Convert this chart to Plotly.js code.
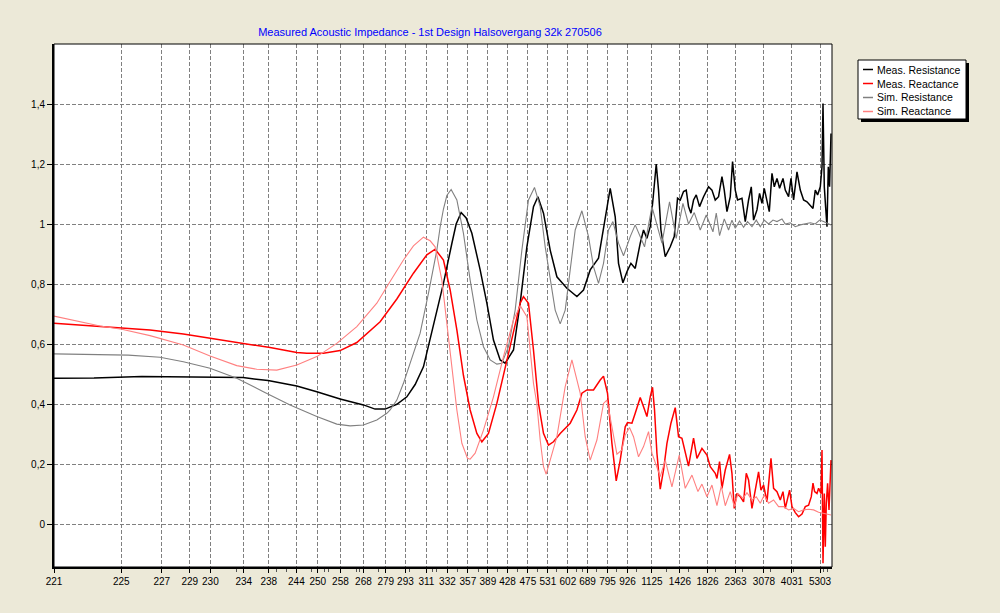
<!DOCTYPE html>
<html>
<head>
<meta charset="utf-8">
<script src="https://cdn.plot.ly/plotly-3.0.1.min.js"></script>
<style>
  body { margin: 0; background: #ECE9D8; }
  #chart { width: 1000px; height: 613px; }
</style>
</head>
<body>
<div id="chart"></div>
<script>
// x is the sweep step along the (non-linear) frequency axis, y is the normalised impedance.
// Tick labels give the frequency (Hz) found at the marked steps.
const tickSteps = [0, 67.3, 107.7, 135.7, 156.3, 189.7, 214.7, 242.3, 263.7, 286.3, 309.3, 331.7, 351.3,
  372.3, 393.3, 413.7, 433.7, 453.3, 473.7, 493.7, 513.7, 533.3, 553.3, 573.3, 597.7, 625.7, 653.3,
  681.3, 709.7, 737.7, 765.7];
const tickFreqs = ['221', '225', '227', '229', '230', '234', '238', '244', '250', '258', '268', '279', '293',
  '311', '332', '357', '389', '428', '475', '531', '602', '689', '795', '926', '1125', '1426', '1826',
  '2363', '3078', '4031', '5303'];
const minorSteps = [182, 222.7, 232, 257.7, 270.3, 274.3, 302.7, 305.3, 324.3, 355.3, 378.7, 382.7, 403.7,
  424.3, 443.3, 463.3, 483.3, 502.7, 522.7, 528.7, 542.7, 562.7, 582.7, 612.7, 634.3, 661, 688.7, 716,
  739.3, 769.3, 773.3];
const yTicks = [0, 0.2, 0.4, 0.6, 0.8, 1, 1.2, 1.4];
const yTickText = ['0', '0,2', '0,4', '0,6', '0,8', '1', '1,2', '1,4'];

const seriesNames = ['Meas. Resistance', 'Meas. Reactance', 'Sim. Resistance', 'Sim. Reactance'];

// Meas. Resistance
const measResStep = [0, 40, 87.7, 166, 189, 214, 242.7, 262.7, 286, 309.3, 321, 331, 342.7, 352.7, 361,
  369.3, 379.3, 389.3, 397.7, 402, 407, 412, 417.7, 426, 432.7, 439.3, 446, 451, 459.3, 466, 472.7, 479.3,
  483.7, 489.3, 496, 502.7, 512.7, 522.7, 529.3, 536, 544.3, 549.3, 556, 561, 564.3, 568.7, 572.7, 576.7,
  581, 586, 589.3, 592.7, 596, 598.7, 602, 604.3, 606.7, 611, 616, 620, 623.3, 626, 629.3, 632, 634.3,
  636.7, 639.3, 642, 645.3, 649.3, 654.3, 657.7, 661, 664.3, 667.7, 670, 672.7, 676, 678.3, 681, 683.3,
  687.7, 691, 694.3, 697, 699.3, 702.7, 705.3, 707.7, 710, 712.7, 715, 717.7, 720, 722.7, 725.3, 728.7,
  731, 734.3, 736.7, 739.3, 742.7, 746, 749.3, 752.7, 756, 758.7, 761, 763.3, 766, 767.7, 768.7, 770,
  771.3, 772.7, 774, 775.3, 776.7];
const measResVal = [0.486, 0.487, 0.492, 0.49, 0.488, 0.478, 0.46, 0.441, 0.417, 0.397, 0.383, 0.383, 0.399,
  0.424, 0.465, 0.524, 0.658, 0.802, 0.935, 1.0, 1.038, 1.02, 0.969, 0.847, 0.736, 0.613, 0.547, 0.536,
  0.58, 0.736, 0.924, 1.058, 1.091, 1.036, 0.913, 0.824, 0.786, 0.758, 0.78, 0.847, 0.886, 0.98, 1.119,
  1.024, 0.869, 0.804, 0.841, 0.869, 0.852, 0.936, 0.98, 0.952, 0.991, 1.08, 1.2, 1.113, 0.98, 0.891,
  0.924, 0.958, 1.086, 1.08, 1.108, 1.113, 1.058, 1.036, 1.08, 1.097, 1.058, 1.091, 1.124, 1.113, 1.08,
  1.091, 1.158, 1.113, 1.041, 1.091, 1.208, 1.113, 1.08, 1.086, 1.008, 1.08, 1.124, 1.013, 1.047, 1.102,
  1.069, 1.119, 1.08, 1.041, 1.169, 1.124, 1.152, 1.119, 1.152, 1.113, 1.091, 1.152, 1.08, 1.174, 1.113,
  1.08, 1.074, 1.063, 1.052, 1.113, 1.097, 1.124, 1.191, 1.402, 1.124, 1.058, 0.991, 1.191, 1.124, 1.302];

// Meas. Reactance
const measReacStep = [0, 42.7, 67.7, 96, 129.3, 162.7, 189.3, 216, 242.7, 252.7, 269.3, 286, 302.7,
  326, 342.7, 359.3, 372.7, 381, 389.3, 396, 402.7, 409.3, 416, 422.7, 427.7, 434.3, 442.7, 451,
  459.3, 466, 469.3, 474.3, 479.3, 484.3, 489.3, 494.3, 499.3, 506, 516, 522.7, 527.7, 532.7, 539.3,
  544.3, 546, 549.3, 553.3, 557.7, 562, 566, 571, 573.3, 577.7, 581, 586, 589.3, 592.7, 596, 598.3,
  600.3, 602.7, 606, 609.3, 612.7, 616.7, 621, 624.3, 627.7, 631, 634.3, 639.3, 642.7, 647.7, 652.7,
  656, 661, 662.7, 665.3, 667.7, 671, 675.3, 677.7, 680, 682.7, 686, 689.3, 692, 694.3, 697.7, 701,
  704.3, 706.7, 709.3, 712.7, 716.7, 719.3, 722.7, 726, 728.7, 731, 733.3, 735.3, 737.7, 741, 744.3,
  747.7, 751, 754.3, 757, 758.7, 760.3, 762.7, 764.3, 766.7, 767.7, 768.7, 770, 771, 772, 773.3, 774.7,
  776, 776.7];
const measReacVal = [0.669, 0.66, 0.654, 0.647, 0.633, 0.616, 0.602, 0.588, 0.572, 0.569, 0.569, 0.578,
  0.605, 0.674, 0.75, 0.836, 0.897, 0.916, 0.88, 0.78, 0.647, 0.495, 0.38, 0.302, 0.274,
  0.302, 0.402, 0.524, 0.647, 0.736, 0.758, 0.736, 0.58, 0.402, 0.302, 0.263, 0.274, 0.302, 0.336, 0.38,
  0.436, 0.447, 0.447, 0.474, 0.48, 0.493, 0.436, 0.269, 0.144, 0.213, 0.324, 0.338, 0.336, 0.369,
  0.422, 0.391, 0.358, 0.424, 0.456, 0.38, 0.236, 0.116, 0.18, 0.269, 0.336, 0.388, 0.291, 0.286, 0.241,
  0.193, 0.286, 0.219, 0.252, 0.23, 0.191, 0.169, 0.152, 0.208, 0.119, 0.18, 0.232, 0.169, 0.052, 0.102,
  0.091, 0.074, 0.169, 0.147, 0.052, 0.113, 0.174, 0.113, 0.13, 0.074, 0.219, 0.119, 0.108, 0.08, 0.108,
  0.052, 0.08, 0.113, 0.058, 0.038, 0.024, 0.033, 0.058, 0.063, 0.091, 0.136, 0.108, 0.102, 0.119, 0.102,
  0.247, -0.131, 0.102, -0.076, 0.069, 0.136, 0.047, 0.191, 0.213];

// Sim. Resistance
const simResStep = [0, 74.3, 106, 129.3, 156, 182.7, 209.3, 236, 262.7, 282.7, 296, 309.3, 322.7, 332.7,
  336, 342.7, 349.3, 352.7, 359.3, 366, 374.3, 382.7, 386, 389.3, 392.7, 397, 402.7, 409.3, 416, 422.7,
  429.3, 436, 442.7, 447.7, 454.3, 461, 467.7, 474.3, 480.3, 486, 491, 496, 501, 506, 511, 516, 521,
  527.7, 534.3, 539.3, 544.3, 549.3, 554.3, 558.7, 564.3, 569.3, 576, 581, 590.3, 597.7, 607.7, 615.3,
  622, 628.7, 634.3, 640, 646, 652, 658.7, 662, 665.3, 670, 674.3, 677.7, 681, 685.3, 689.3, 693.3,
  697.7, 702, 706, 710, 714.3, 718.7, 722.7, 727.7, 731, 736, 741, 746, 751, 756, 761, 765.3, 769.3,
  774.3, 776.7];
const simResVal = [0.567, 0.563, 0.556, 0.541, 0.519, 0.486, 0.441, 0.397, 0.358, 0.333, 0.327, 0.33,
  0.347, 0.369, 0.38, 0.413, 0.469, 0.502, 0.569, 0.636, 0.769, 0.913, 0.99, 1.05, 1.095, 1.115, 1.08,
  0.969, 0.813, 0.68, 0.591, 0.547, 0.533, 0.536, 0.591, 0.713, 0.913, 1.08, 1.122, 1.058, 0.924, 0.813,
  0.713, 0.667, 0.713, 0.847, 0.98, 1.044, 0.958, 0.858, 0.802, 0.869, 0.98, 1.008, 0.936, 0.894, 0.958,
  0.997, 0.924, 1.058, 0.936, 1.074, 0.952, 1.069, 1.0, 1.038, 0.98, 1.03, 0.974, 1.036, 0.961, 1.017,
  0.98, 1.013, 0.986, 1.01, 0.989, 1.008, 0.991, 1.013, 0.991, 1.013, 1.0, 1.013, 1.008, 1.017, 1.0,
  1.004, 0.991, 0.997, 1.0, 1.004, 1.0, 1.013, 1.008, 1.0, 0.997];

// Sim. Reactance
const simReacStep = [0, 46, 67.7, 96, 129.3, 156, 182.7, 202.7, 222.7, 242.7, 262.7, 282.7, 302.7, 312.7,
  322.7, 332.7, 342.7, 349.3, 359.3, 369.3, 376, 381, 387.7, 392.7, 397.7, 402.7, 407.7, 413.3, 416,
  421, 429.3, 439.3, 449.3, 459.3, 466, 472.7, 479.3, 482.7, 486, 489.3, 492, 502.7, 511, 517.7, 526,
  531, 536, 542.7, 549.3, 552.7, 557.7, 562.7, 567.7, 571, 575.3, 579.3, 584.3, 589.3, 594.3, 597.7,
  606, 611, 617.7, 625, 631, 637.7, 643.7, 647.7, 652.7, 657.7, 662.7, 667, 671, 676, 680, 683.7, 688.7,
  692.7, 697.7, 702, 706, 710, 714.3, 719.3, 724.3, 729.3, 734.3, 739.3, 744.3, 749.3, 754.3, 759.3,
  764.3, 769.3, 774.3, 776.7];
const simReacVal = [0.693, 0.66, 0.649, 0.628, 0.597, 0.56, 0.528, 0.516, 0.513, 0.53, 0.558, 0.602,
  0.658, 0.697, 0.736, 0.791, 0.847, 0.88, 0.927, 0.956, 0.944, 0.924, 0.813, 0.669, 0.513, 0.38, 0.269,
  0.219, 0.216, 0.236, 0.313, 0.424, 0.558, 0.68, 0.728, 0.691, 0.469, 0.4, 0.28, 0.191, 0.166, 0.291,
  0.458, 0.547, 0.436, 0.291, 0.213, 0.28, 0.402, 0.413, 0.324, 0.233, 0.247, 0.297, 0.322, 0.291,
  0.224, 0.258, 0.308, 0.236, 0.158, 0.213, 0.124, 0.23, 0.119, 0.163, 0.108, 0.133, 0.091, 0.13, 0.061,
  0.127, 0.061, 0.108, 0.058, 0.102, 0.086, 0.104, 0.08, 0.091, 0.069, 0.097, 0.069, 0.08, 0.058, 0.058,
  0.047, 0.052, 0.041, 0.047, 0.049, 0.047, 0.039, 0.036, 0.033, 0.03];

const colors = ['#000000', '#FF0000', '#808080', '#FF8080'];
const widths = [1.5, 1.5, 1.1, 1.1];
const font = 'Liberation Sans, Arial, sans-serif';

const steps = [measResStep, measReacStep, simResStep, simReacStep];
const vals = [measResVal, measReacVal, simResVal, simReacVal];

const traces = seriesNames.map((name, i) => ({
  x: steps[i],
  y: vals[i],
  name: name,
  type: 'scatter',
  mode: 'lines',
  line: { color: colors[i], width: widths[i] },
  showlegend: false,
  hoverinfo: 'skip'
}));

// Plot area in page pixels, used to place the hand-built legend box
const plotL = 54, plotR = 832, plotT = 44, plotB = 567;
const px = (x) => (x - plotL) / (plotR - plotL);
const py = (y) => (plotB - y) / (plotB - plotT);

const shapes = [
  // thin frame on top and right
  { type: 'rect', xref: 'paper', yref: 'paper', x0: 0, x1: 1, y0: 0, y1: 1, line: { color: '#000', width: 1 } },
  // legend shadow and box
  { type: 'rect', xref: 'paper', yref: 'paper', x0: px(861), x1: px(969), y0: py(63), y1: py(122),
    fillcolor: '#000', line: { width: 0 } },
  { type: 'rect', xref: 'paper', yref: 'paper', x0: px(858), x1: px(966), y0: py(60), y1: py(119),
    fillcolor: '#fff', line: { color: '#000', width: 1 } }
];
const annotations = [];
seriesNames.forEach((name, i) => {
  const rowY = 69.5 + i * 14;
  shapes.push({ type: 'line', xref: 'paper', yref: 'paper', x0: px(863), x1: px(873), y0: py(rowY), y1: py(rowY),
    line: { color: colors[i], width: 1.5 } });
  annotations.push({ xref: 'paper', yref: 'paper', x: px(875), y: py(rowY), text: name, showarrow: false,
    xanchor: 'left', yanchor: 'middle', font: { family: font, size: 10.5, color: '#000' } });
});

const layout = {
  width: 1000,
  height: 613,
  paper_bgcolor: '#ECE9D8',
  plot_bgcolor: '#FFFFFF',
  margin: { l: plotL, r: 1000 - plotR, t: plotT, b: 613 - plotB, pad: 0 },
  title: {
    text: 'Measured Acoustic Impedance - 1st Design Halsovergang 32k 270506',
    font: { family: font, size: 11, color: '#0000FF' },
    xref: 'container', x: 0.43, xanchor: 'center',
    yref: 'container', y: 1 - 32 / 613, yanchor: 'middle'
  },
  font: { family: font, size: 10, color: '#000' },
  showlegend: false,
  xaxis: {
    range: [0, 777.7],
    tickmode: 'array',
    tickvals: tickSteps,
    ticktext: tickFreqs,
    tickangle: 0,
    ticks: 'outside', ticklen: 4, tickwidth: 1, tickcolor: '#000',
    showgrid: true, gridcolor: '#808080', gridwidth: 1, griddash: '4px,2px',
    minor: { tickmode: 'array', tickvals: minorSteps, ticks: 'outside', ticklen: 3, tickcolor: '#555', showgrid: false },
    showline: true, linecolor: '#000', linewidth: 2,
    zeroline: false,
    tickfont: { family: font, size: 10, color: '#000' },
    fixedrange: true
  },
  yaxis: {
    range: [-0.1433, 1.6],
    tickmode: 'array',
    tickvals: yTicks,
    ticktext: yTickText,
    ticks: 'outside', ticklen: 5, tickwidth: 1, tickcolor: '#000',
    showgrid: true, gridcolor: '#808080', gridwidth: 1, griddash: '4px,2px',
    showline: true, linecolor: '#000', linewidth: 2,
    zeroline: false,
    tickfont: { family: font, size: 10, color: '#000' },
    fixedrange: true
  },
  shapes: shapes,
  annotations: annotations
};

Plotly.newPlot('chart', traces, layout, { displayModeBar: false, staticPlot: true });
</script>
</body>
</html>
